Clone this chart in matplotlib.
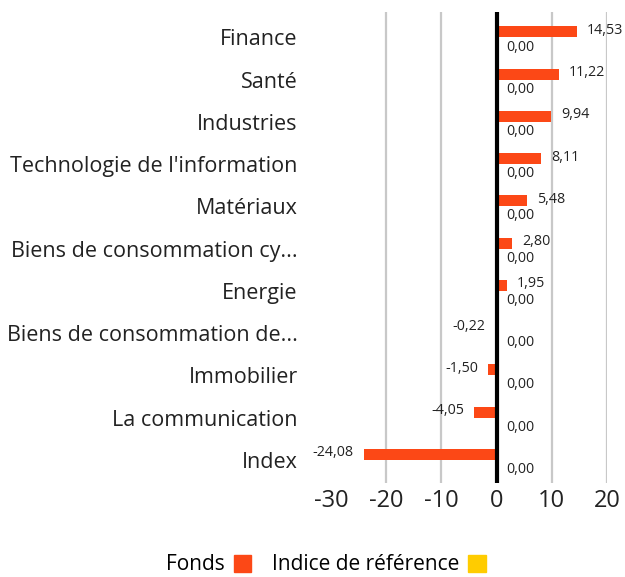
import numpy as np
import matplotlib
matplotlib.use('Agg')
import matplotlib.pyplot as plt
from matplotlib.patches import Patch

plt.rcParams['font.family'] = ['Open Sans', 'DejaVu Sans']

# Data
categories = ['Finance', 'Santé', 'Industries', "Technologie de l'information",
              'Matériaux', 'Biens de consommation cy...', 'Energie',
              'Biens de consommation de...', 'Immobilier', 'La communication', 'Index']
fonds = [14.53, 11.22, 9.94, 8.11, 5.48, 2.80, 1.95, -0.22, -1.50, -4.05, -24.08]
indice = [0.00] * 11
xticks = [-30, -20, -10, 0, 10, 20]

ORANGE = '#FC4816'
YELLOW = '#FFCC00'

fig = plt.figure(figsize=(6.25, 5.77), dpi=100)
ax = fig.add_axes([331 / 625, 1 - 483 / 577, 276 / 625, 471 / 577])

y = np.arange(len(categories))
h = 0.26
ax.barh(y - h / 2, fonds, height=h, color=ORANGE, zorder=3)
ax.barh(y + h / 2, indice, height=h, color=YELLOW, zorder=3)

def fmt(v):
    return f'{v:.2f}'.replace('.', ',')

for i, v in enumerate(fonds):
    off = 7 if v >= 0 else -7
    ax.annotate(fmt(v), (v, i - h / 2), xytext=(off, 1), textcoords='offset points',
                ha='left' if v >= 0 else 'right', va='center', fontsize=10.3,
                color='#222222', annotation_clip=False)
for i, v in enumerate(indice):
    ax.annotate(fmt(v), (v, i + h / 2), xytext=(7, -3), textcoords='offset points',
                ha='left', va='center', fontsize=10.3, color='#222222',
                annotation_clip=False)

ax.set_xlim(-30, 20)
ax.set_ylim(len(categories) - 0.45, -0.6)
ax.set_xticks(xticks)
ax.set_xticklabels([str(t) for t in xticks], fontsize=17, color='#222222')
ax.set_yticks(y)
ax.set_yticklabels(categories, fontsize=15.5, color='#222222')
ax.tick_params(length=0, axis='x', pad=4)
ax.tick_params(length=0, axis='y', pad=24)

for t in xticks:
    if t == 0:
        ax.axvline(0, color='black', lw=3, zorder=4)
    elif t != -30:
        ax.axvline(t, color='#c8c8c8', lw=1.6, zorder=1)

for s in ax.spines.values():
    s.set_visible(False)

handles = [Patch(color=ORANGE), Patch(color=YELLOW)]
fig.legend(handles, ['Fonds', 'Indice de référence'], loc='center',
           bbox_to_anchor=(326 / 625, 1 - 565 / 577), ncol=2, frameon=False,
           markerfirst=False, fontsize=15, handlelength=0.85, handleheight=0.85,
           handletextpad=0.4, columnspacing=1.0)

fig.savefig('out.png', dpi=100)
